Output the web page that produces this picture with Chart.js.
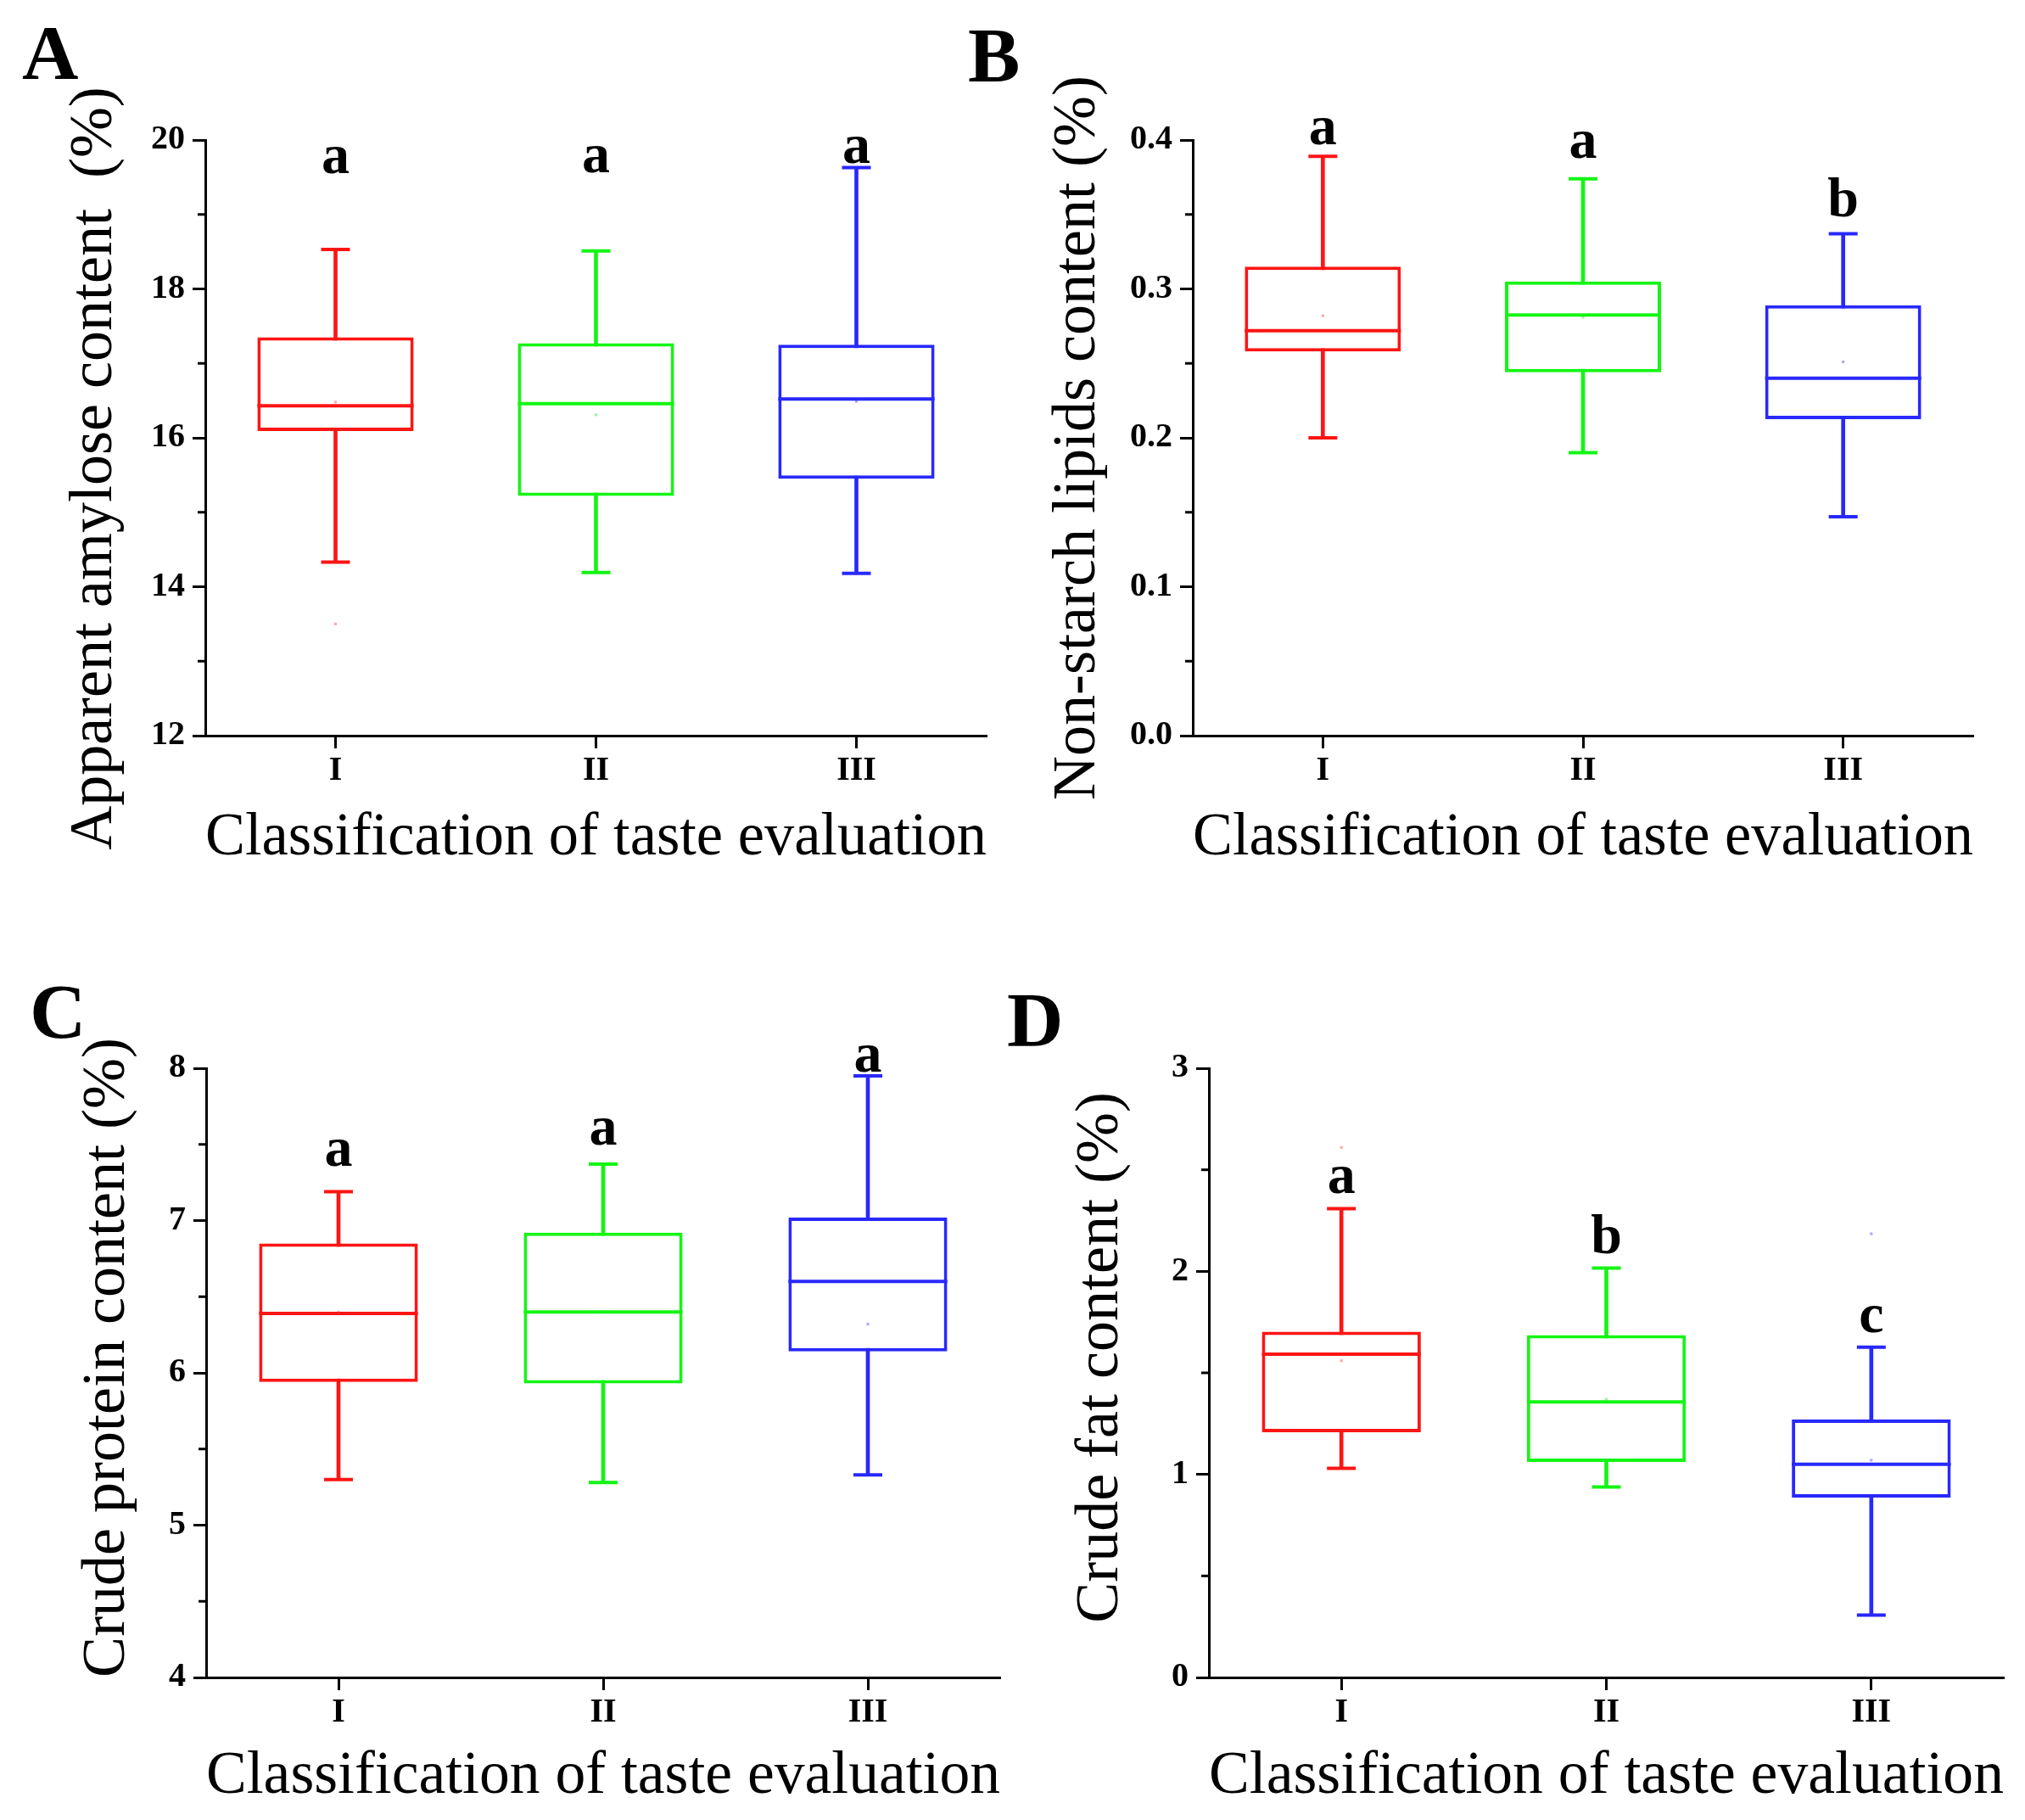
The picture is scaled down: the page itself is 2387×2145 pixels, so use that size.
<!DOCTYPE html>
<html>
<head>
<meta charset="utf-8">
<script src="https://cdn.jsdelivr.net/npm/chart.js@4.4.0/dist/chart.umd.min.js"></script>
<style>
html,body{margin:0;padding:0;background:#fff;}
body{width:2387px;height:2145px;position:relative;overflow:hidden;}
.panel{position:absolute;}
.plabel{position:absolute;font-family:'Liberation Serif','Times New Roman',serif;font-weight:bold;font-size:92px;line-height:92px;color:#000;}
</style>
</head>
<body>
<div class="panel" style="left:0px;top:0px;width:1190px;height:1075px"><canvas id="cA"></canvas></div>
<div class="panel" style="left:1190px;top:0px;width:1197px;height:1075px"><canvas id="cB"></canvas></div>
<div class="panel" style="left:0px;top:1075px;width:1190px;height:1070px"><canvas id="cC"></canvas></div>
<div class="panel" style="left:1190px;top:1075px;width:1197px;height:1070px"><canvas id="cD"></canvas></div>
<div class="plabel" style="left:26px;top:16px">A</div>
<div class="plabel" style="left:1141px;top:19px">B</div>
<div class="plabel" style="left:35px;top:1146px">C</div>
<div class="plabel" style="left:1187px;top:1156px">D</div>
<script>
// ---------- data ----------
const categories = ['I', 'II', 'III'];
const boxColors = ['rgb(255,20,20)', 'rgb(20,245,20)', 'rgb(40,40,255)'];
const dotColors = ['rgba(255,60,60,0.45)', 'rgba(40,230,40,0.45)', 'rgba(60,60,255,0.45)'];

// A: Apparent amylose content
const amyloseMin = [14.33, 14.19, 14.18];
const amyloseQ1 = [16.09, 15.22, 15.45];
const amyloseMedian = [16.43, 16.46, 16.52];
const amyloseQ3 = [17.35, 17.27, 17.25];
const amyloseMax = [18.53, 18.51, 19.63];
const amyloseMean = [16.48, 16.31, 16.49];
const amyloseOutlier = [13.5, null, null];
const amyloseLetters = ['a', 'a', 'a'];
const amyloseLetterY = [19.55, 19.57, 19.69];
const amyloseTicks = ['12', '14', '16', '18', '20'];

// B: Non-starch lipids content
const lipidMin = [0.200, 0.190, 0.147];
const lipidQ1 = [0.258, 0.244, 0.2125];
const lipidMedian = [0.272, 0.2825, 0.240];
const lipidQ3 = [0.315, 0.305, 0.289];
const lipidMax = [0.389, 0.374, 0.337];
const lipidMean = [0.282, 0.281, 0.251];
const lipidOutlier = [null, null, null];
const lipidLetters = ['a', 'a', 'b'];
const lipidLetterY = [0.397, 0.388, 0.349];
const lipidTicks = ['0.0', '0.1', '0.2', '0.3', '0.4'];

// C: Crude protein content
const proteinMin = [5.30, 5.28, 5.33];
const proteinQ1 = [5.94, 5.93, 6.14];
const proteinMedian = [6.39, 6.40, 6.60];
const proteinQ3 = [6.85, 6.92, 7.02];
const proteinMax = [7.19, 7.37, 7.95];
const proteinMean = [6.40, 6.40, 6.32];
const proteinOutlier = [null, null, null];
const proteinLetters = ['a', 'a', 'a'];
const proteinLetterY = [7.36, 7.50, 7.98];
const proteinTicks = ['4', '5', '6', '7', '8'];

// D: Crude fat content
const fatMin = [1.03, 0.938, 0.307];
const fatQ1 = [1.207, 1.061, 0.886];
const fatMedian = [1.592, 1.357, 1.050];
const fatQ3 = [1.703, 1.686, 1.270];
const fatMax = [2.309, 2.016, 1.626];
const fatMean = [1.56, 1.37, 1.07];
const fatOutlier = [2.61, null, 2.185];
const fatLetters = ['a', 'b', 'c'];
const fatLetterY = [2.386, 2.09, 1.70];
const fatTicks = ['0', '1', '2', '3'];

const xTitle = 'Classification of taste evaluation';
const FONT = "'Liberation Serif', 'Times New Roman', serif";
const LW = 4;

// ---------- builder ----------
function makePanel(canvasId, s, lay) {
  const majors = s.ticks.map(Number);
  const tickVals = [];
  majors.forEach((m, i) => {
    tickVals.push(m);
    if (i < majors.length - 1) tickVals.push((m + majors[i + 1]) / 2);
  });

  const overlay = {
    id: 'overlay' + canvasId,
    afterDraw(chart) {
      const ctx = chart.ctx, ys = chart.scales.y, xs = chart.scales.x;
      ctx.save();
      ctx.strokeStyle = '#000';
      ctx.lineWidth = 3;
      ys.ticks.forEach((t, i) => {
        if (i % 2 === 1) {
          const py = ys.getPixelForValue(t.value);
          ctx.beginPath();
          ctx.moveTo(chart.chartArea.left, py);
          ctx.lineTo(chart.chartArea.left - 9, py);
          ctx.stroke();
        }
      });
      ctx.fillStyle = '#000';
      ctx.font = 'bold 66px ' + FONT;
      ctx.textAlign = 'center';
      ctx.textBaseline = 'alphabetic';
      s.letters.forEach((L, i) => {
        ctx.fillText(L, xs.getPixelForValue(i), ys.getPixelForValue(s.letterY[i]));
      });
      ctx.restore();
    }
  };

  const halfBox = (c) => c.chart.chartArea ? c.chart.chartArea.width / categories.length * 0.3 : 90;

  new Chart(document.getElementById(canvasId), {
    type: 'bar',
    data: {
      labels: categories,
      datasets: [
        { type: 'bar', data: s.min.map((v, i) => [v, s.max[i]]), backgroundColor: boxColors,
          borderWidth: 0, barThickness: LW, grouped: false, order: 9 },
        { type: 'bar', data: s.q1.map((v, i) => [v, s.q3[i]]), backgroundColor: '#ffffff',
          borderColor: boxColors, borderWidth: LW, borderSkipped: false,
          barPercentage: 0.6, categoryPercentage: 1, grouped: false, order: 8 },
        { type: 'line', data: s.median, showLine: false, pointStyle: 'line', pointRadius: halfBox,
          pointBorderColor: boxColors, pointBorderWidth: LW, order: 5 },
        { type: 'line', data: s.max, showLine: false, pointStyle: 'line', pointRadius: 17,
          pointBorderColor: boxColors, pointBorderWidth: LW, order: 4 },
        { type: 'line', data: s.min, showLine: false, pointStyle: 'line', pointRadius: 17,
          pointBorderColor: boxColors, pointBorderWidth: LW, order: 4 },
        { type: 'line', data: s.mean, showLine: false, pointStyle: 'rect', pointRadius: 2.2,
          pointBackgroundColor: dotColors, pointBorderWidth: 0, order: 2 },
        { type: 'line', data: s.outlier, showLine: false, pointStyle: 'rect', pointRadius: 2.2,
          pointBackgroundColor: dotColors, pointBorderWidth: 0, order: 2 }
      ]
    },
    options: {
      responsive: true,
      maintainAspectRatio: false,
      animation: false,
      events: [],
      layout: { autoPadding: false, padding: { left: lay.padLeft, top: lay.top, right: lay.padRight, bottom: 0 } },
      plugins: { legend: { display: false }, tooltip: { enabled: false } },
      scales: {
        x: {
          type: 'category',
          offset: true,
          grid: { display: true, drawOnChartArea: false, drawTicks: true, tickLength: 15,
                  tickWidth: 3, tickColor: '#000', offset: false },
          border: { display: true, color: '#000', width: 3 },
          ticks: { font: { family: FONT, size: 40, weight: 'bold' }, color: '#000', padding: 3,
                   maxRotation: 0, autoSkip: false },
          title: { display: true, text: xTitle, color: '#000',
                   font: { family: FONT, size: 72, weight: 'normal' },
                   padding: { top: 0, bottom: lay.xTitlePad } },
          afterFit: (sc) => { sc.height = lay.xHeight; sc.paddingLeft = 0; sc.paddingRight = 0; }
        },
        y: {
          type: 'linear',
          min: majors[0],
          max: majors[majors.length - 1],
          afterBuildTicks: (sc) => { sc.ticks = tickVals.map(v => ({ value: v })); },
          grid: { display: true, drawOnChartArea: false, drawTicks: true, tickLength: 15, tickWidth: 3,
                  tickColor: (c) => (c.index % 2 === 0 ? '#000' : 'rgba(0,0,0,0)') },
          border: { display: true, color: '#000', width: 3 },
          ticks: { autoSkip: false, padding: 9, color: '#000',
                   font: { family: FONT, size: 40, weight: 'bold' },
                   callback: (v, i) => (i % 2 === 0 ? s.ticks[i / 2] : '') },
          title: { display: true, text: s.yTitle, color: '#000',
                   font: { family: FONT, size: 72, weight: 'normal' },
                   padding: { top: lay.yTitlePad, bottom: 0 } },
          afterFit: (sc) => { sc.width = lay.yWidth; }
        }
      }
    },
    plugins: [overlay]
  });
}

makePanel('cA', {
  min: amyloseMin, q1: amyloseQ1, median: amyloseMedian, q3: amyloseQ3, max: amyloseMax,
  mean: amyloseMean, outlier: amyloseOutlier, letters: amyloseLetters, letterY: amyloseLetterY,
  ticks: amyloseTicks, yTitle: 'Apparent amylose content  (%)    '
}, { padLeft: 60, yWidth: 182, yTitlePad: 9, top: 165, padRight: 27, xHeight: 208, xTitlePad: 44 });

makePanel('cB', {
  min: lipidMin, q1: lipidQ1, median: lipidMedian, q3: lipidQ3, max: lipidMax,
  mean: lipidMean, outlier: lipidOutlier, letters: lipidLetters, letterY: lipidLetterY,
  ticks: lipidTicks, yTitle: 'Non-starch lipids content (%)'
}, { padLeft: 30, yWidth: 186, yTitlePad: 8, top: 165, padRight: 61, xHeight: 208, xTitlePad: 44 });

makePanel('cC', {
  min: proteinMin, q1: proteinQ1, median: proteinMedian, q3: proteinQ3, max: proteinMax,
  mean: proteinMean, outlier: proteinOutlier, letters: proteinLetters, letterY: proteinLetterY,
  ticks: proteinTicks, yTitle: '  Crude protein content (%)'
}, { padLeft: 60, yWidth: 183, yTitlePad: 24, top: 184, padRight: 11, xHeight: 168, xTitlePad: 8 });

makePanel('cD', {
  min: fatMin, q1: fatQ1, median: fatMedian, q3: fatQ3, max: fatMax,
  mean: fatMean, outlier: fatOutlier, letters: fatLetters, letterY: fatLetterY,
  ticks: fatTicks, yTitle: '  Crude fat content (%)'
}, { padLeft: 30, yWidth: 205, yTitlePad: 35, top: 184, padRight: 25, xHeight: 168, xTitlePad: 8 });
</script>
</body>
</html>
